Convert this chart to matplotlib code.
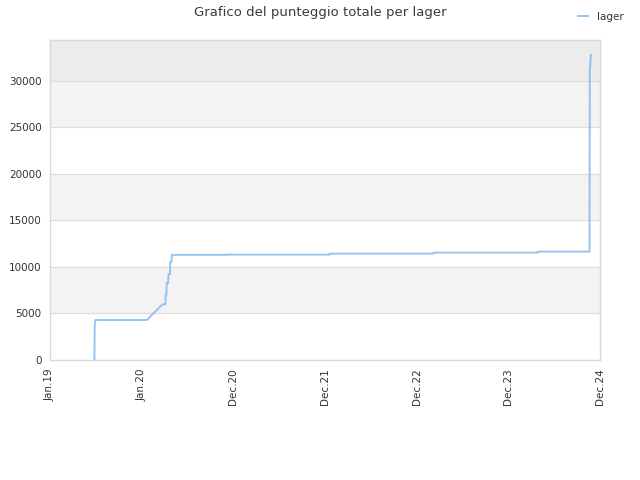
import matplotlib
matplotlib.use("Agg")
import matplotlib.pyplot as plt
import matplotlib.dates as mdates
import numpy as np
import pandas as pd

# score history
dates = [
    "2019-07-04", "2019-07-05", "2019-07-06", "2019-07-08", "2020-01-25",
    "2020-03-27", "2020-04-07", "2020-04-08", "2020-04-11", "2020-04-12",
    "2020-04-18", "2020-04-19", "2020-04-25", "2020-04-26", "2020-05-01",
    "2020-05-02", "2020-11-28", "2020-11-29", "2022-01-10", "2022-01-11",
    "2023-02-21", "2023-02-22", "2024-04-04", "2024-04-05", "2024-10-24",
    "2024-10-25", "2024-10-27", "2024-10-29",
]
scores = [
    0, 3660, 3800, 4300, 4300,
    5990, 5990, 7000, 7000, 8280,
    8280, 9250, 9250, 10570, 10570,
    11300, 11300, 11330, 11330, 11440,
    11440, 11545, 11545, 11650, 11650,
    31360, 31600, 32800,
]
band_edges = [0, 5000, 10000, 15000, 20000, 25000, 30000, 34400]
band_colors = ["#ffffff", "#f3f3f3", "#ffffff", "#f3f3f3", "#ffffff", "#f3f3f3", "#ececec"]

x = pd.to_datetime(dates)
x_start = pd.Timestamp("2019-01-11")
x_end = pd.Timestamp("2024-12-04")

fig = plt.figure(figsize=(6.4, 4.8), dpi=100)
ax = fig.add_axes([50 / 640, 120 / 480, 550 / 640, 320 / 480])

for i in range(len(band_colors)):
    ax.axhspan(band_edges[i], band_edges[i + 1], color=band_colors[i], lw=0, zorder=0)
for y in range(5000, 35000, 5000):
    ax.axhline(y, color="#dddddd", lw=0.9, zorder=1)

ax.plot(x, scores, color="#7cb5ec", lw=1.4, alpha=0.8, zorder=3, label="lager")

ax.set_ylim(0, 34400)
ax.set_xlim(x_start, x_end)
ax.set_yticks(range(0, 35000, 5000))
ticks = np.linspace(mdates.date2num(x_start), mdates.date2num(x_end), 7)
ax.set_xticks(ticks)
ax.xaxis.set_major_formatter(mdates.DateFormatter("%b.%y"))
ax.tick_params(axis="x", rotation=90, length=0, labelsize=7.5, colors="#333333", pad=6)
ax.tick_params(axis="y", length=0, labelsize=7.5, colors="#333333", pad=6)
for s in ax.spines.values():
    s.set_color("#d8d8d8")
    s.set_linewidth(1)

fig.text(0.5, 0.973, "Grafico del punteggio totale per lager", ha="center", va="center",
         fontsize=9.5, color="#3a3a3a")
fig.legend(loc="upper right", bbox_to_anchor=(0.99, 0.995), frameon=False, fontsize=7.5,
           handlelength=1.0, handletextpad=0.9, labelcolor="#333333")

fig.savefig("out.png", dpi=100)
